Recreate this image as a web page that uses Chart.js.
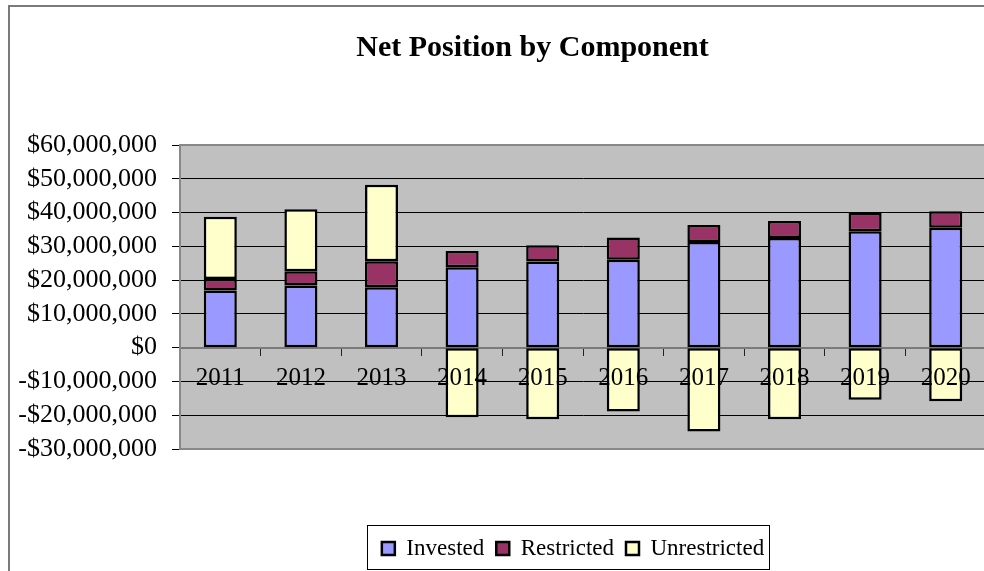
<!DOCTYPE html>
<html><head><meta charset="utf-8">
<script src="https://cdn.jsdelivr.net/npm/chart.js@4.4.1/dist/chart.umd.min.js"></script>
<style>
html,body{margin:0;padding:0;overflow:hidden;background:#fff;width:984px;height:571px;}
#wrap{position:absolute;left:0;top:0;width:1064px;height:580px;}
#frame{position:absolute;left:8px;top:5px;width:1100px;height:620px;border:2px solid #7a7a7a;box-sizing:border-box;pointer-events:none;}
canvas{position:absolute;left:0;top:0;}
</style></head>
<body>
<div id="wrap"><canvas id="c" width="1064" height="580"></canvas><div id="frame"></div></div>
<script>
const categories = ['2011','2012','2013','2014','2015','2016','2017','2018','2019','2020'];
const invested     = [16900000, 18400000, 17900000, 23800000, 25500000, 26000000, 31300000, 32500000, 34500000, 35500000];
const restricted   = [3450000, 4200000, 7700000, 4800000, 4800000, 6600000, 5000000, 5000000, 5400000, 4900000];
const unrestricted = [18400000, 18400000, 22600000, -20600000, -21200000, -18900000, -24800000, -21200000, -15400000, -15900000];
const yTickValues = [-30000000, -20000000, -10000000, 0, 10000000, 20000000, 30000000, 40000000, 50000000, 60000000];
const yTickLabels = ['-$30,000,000','-$20,000,000','-$10,000,000','$0','$10,000,000','$20,000,000','$30,000,000','$40,000,000','$50,000,000','$60,000,000'];
const seriesNames = ['Invested','Restricted','Unrestricted'];

const FONT = "'Liberation Serif', 'Times New Roman', serif";

const plotBg = {
  id: 'plotBg',
  afterLayout(chart) {
    // let the y tick labels overflow the (narrow) axis box to the left
    if (chart.scales.y) chart.scales.y.left = 0;
    // nudge the legend block to the left, as in the reference
    if (chart.legend) { chart.legend.left -= 10; chart.legend.right -= 10; }
  },
  beforeDraw(chart) {
    const {ctx, chartArea: a} = chart;
    ctx.save();
    ctx.fillStyle = '#C0C0C0';
    ctx.fillRect(a.left, a.top, a.right - a.left, a.bottom - a.top);
    ctx.restore();
  },
  beforeDatasetsDraw(chart) {
    const {ctx, chartArea: a} = chart;
    ctx.save();
    ctx.strokeStyle = '#888888';
    ctx.lineWidth = 2;
    ctx.strokeRect(a.left, a.top, a.right - a.left, a.bottom - a.top);
    ctx.restore();
  }
};
const legendFrame = {
  id: 'legendFrame',
  afterDraw(chart) {
    const lg = chart.legend;
    if (!lg || !lg.legendHitBoxes || !lg.legendHitBoxes.length) return;
    const hb = lg.legendHitBoxes;
    const l = Math.min(...hb.map(h => h.left)) - 15;
    const r = Math.max(...hb.map(h => h.left + h.width)) + 5;
    const ctx = chart.ctx;
    ctx.save();
    ctx.strokeStyle = '#000';
    ctx.lineWidth = 1;
    ctx.strokeRect(Math.round(l) + 0.5, Math.round(lg.top) + 0.5, Math.round(r - l), Math.round(lg.height) - 1);
    ctx.restore();
  }
};

const colors = ['#9999FF', '#993366', '#FFFFCC'];
const seriesData = [invested, restricted, unrestricted];

new Chart(document.getElementById('c'), {
  type: 'bar',
  data: {
    labels: categories,
    datasets: seriesNames.map((n, i) => ({
      label: n,
      data: seriesData[i],
      backgroundColor: colors[i],
      borderColor: '#000',
      borderWidth: 2.5,
      borderSkipped: false,
      barPercentage: 0.41,
      categoryPercentage: 1.0
    }))
  },
  options: {
    responsive: false,
    animation: false,
    devicePixelRatio: 1,
    layout: { padding: { left: 79, right: 78, top: 0, bottom: 10 } },
    scales: {
      x: {
        type: 'category',
        stacked: true,
        position: { y: 0 },
        offset: true,
        grid: { offset: true, drawOnChartArea: false, drawTicks: true, tickLength: 7, tickColor: '#222' },
        border: { display: true, color: '#7a7a7a', width: 2 },
        ticks: { z: 1, color: '#000', font: { family: FONT, size: 25 }, padding: 9, maxRotation: 0, autoSkip: false }
      },
      y: {
        stacked: true,
        min: -30000000,
        max: 60000000,
        afterBuildTicks: s => { s.ticks = yTickValues.map(v => ({ value: v })); },
        afterFit: s => { s.width = 101; },
        grid: { color: '#000', lineWidth: 1, drawTicks: true, tickLength: 8, tickColor: '#000' },
        border: { display: true, color: '#888888', width: 2 },
        ticks: {
          color: '#000', font: { family: FONT, size: 26, lineHeight: 1.0 }, padding: 15, autoSkip: false,
          callback: (v, i) => yTickLabels[i]
        }
      }
    },
    plugins: {
      title: {
        display: true,
        text: 'Net Position by Component',
        color: '#000',
        font: { family: FONT, size: 30, weight: 'bold', lineHeight: 1.2 },
        padding: { top: 30, bottom: 79 }
      },
      subtitle: {
        display: true,
        text: '',
        position: 'bottom',
        weight: 500,
        font: { size: 10, lineHeight: 1.2 },
        padding: { top: 0, bottom: 64 }
      },
      legend: {
        display: true,
        position: 'bottom',
        fullSize: false,
        labels: {
          color: '#000',
          font: { family: FONT, size: 23 },
          boxWidth: 13,
          boxHeight: 13,
          padding: 12
        }
      },
      tooltip: { enabled: false }
    }
  },
  plugins: [plotBg, legendFrame]
});
</script>
</body></html>
